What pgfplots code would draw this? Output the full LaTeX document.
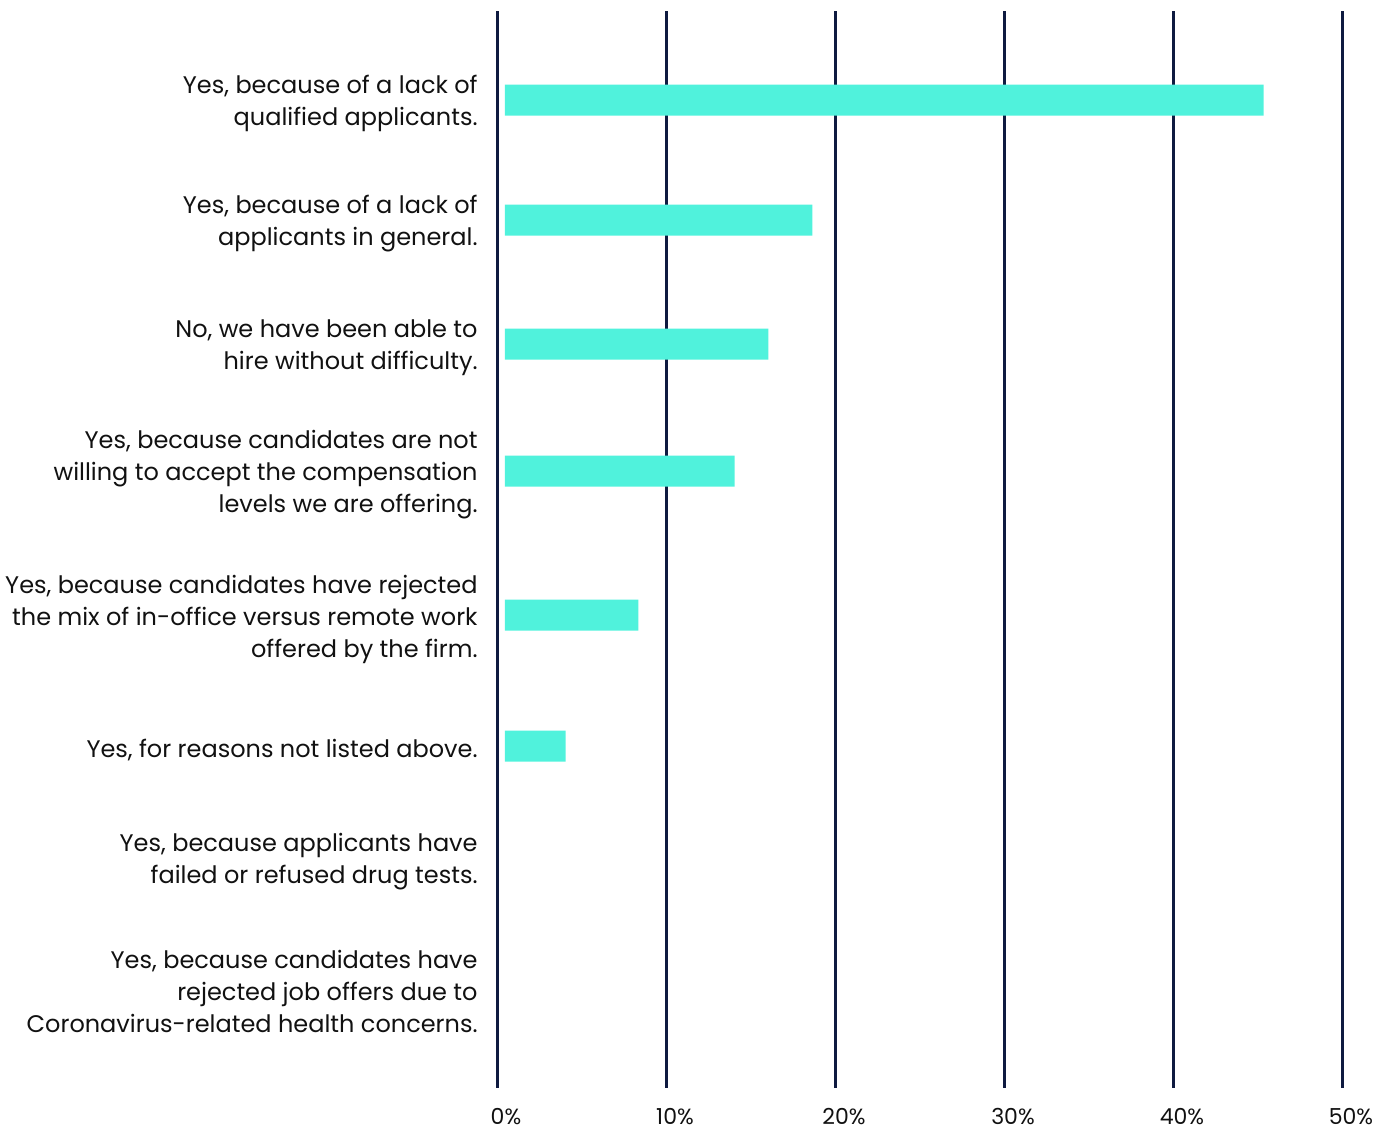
\documentclass[border=0pt]{standalone}
\usepackage{pgfplots}
\pgfplotsset{compat=1.18}
\usepackage{pgfplotstable}
\usepackage{fontspec}
\setmainfont{Poppins}
\definecolor{barc}{HTML}{50F2DC}
\definecolor{gridc}{HTML}{0E1A40}
\definecolor{txt}{HTML}{111111}
\pgfplotstableread{
y v
100 45.3
220 18.6
344 16.0
471 14.0
615 8.3
746 4.0
859 0
988 0
}\data
\begin{document}
\begin{tikzpicture}
\begin{axis}[
  width=422.5pt, height=538.5pt, scale only axis,
  xmin=0, xmax=50, ymin=11, ymax=1088, y dir=reverse,
  xbar stacked, bar width=31,
  axis line style={draw=none},
  major tick length=0pt,
  xtick={0,10,20,30,40,50},
  xticklabels={0\%,10\%,20\%,30\%,40\%,50\%},
  xticklabel style={anchor=north, inner sep=0pt, yshift=-10pt, xshift=4pt, font=\fontsize{11}{13}\selectfont, text=txt},
  ytick={100,221,345,472,616,747,859,988},
  yticklabels={{Yes, because of a lack of\\qualified applicants.},
    {Yes, because of a lack of\\applicants in general.},
    {No, we have been able to\\hire without difficulty.},
    {Yes, because candidates are not\\willing to accept the compensation\\levels we are offering.},
    {Yes, because candidates have rejected\\the mix of in-office versus remote work\\offered by the firm.},
    {Yes, for reasons not listed above.},
    {Yes, because applicants have\\failed or refused drug tests.},
    {Yes, because candidates have\\rejected job offers due to\\Coronavirus-related health concerns.}},
  yticklabel style={anchor=east, align=right, inner sep=0pt, xshift=-10pt, yshift=-1.5pt, font=\fontsize{12}{16}\selectfont, text=txt},
  xmajorgrids, ymajorgrids=false,
  grid style={gridc, line width=1.5pt},
  clip=false,
]
\addplot[draw=none, fill=none] table[y=y, x expr=0.4] {\data};
\addplot[draw=none, fill=barc] table[y=y, x expr={max(\thisrow{v}-0.4,0)}] {\data};
\coordinate (o) at (axis cs:0,1088);
\end{axis}
\pgfresetboundingbox
\path[use as bounding box] ([shift={(-249pt,-21pt)}]o) rectangle ++(695pt,565pt);
\end{tikzpicture}
\end{document}
